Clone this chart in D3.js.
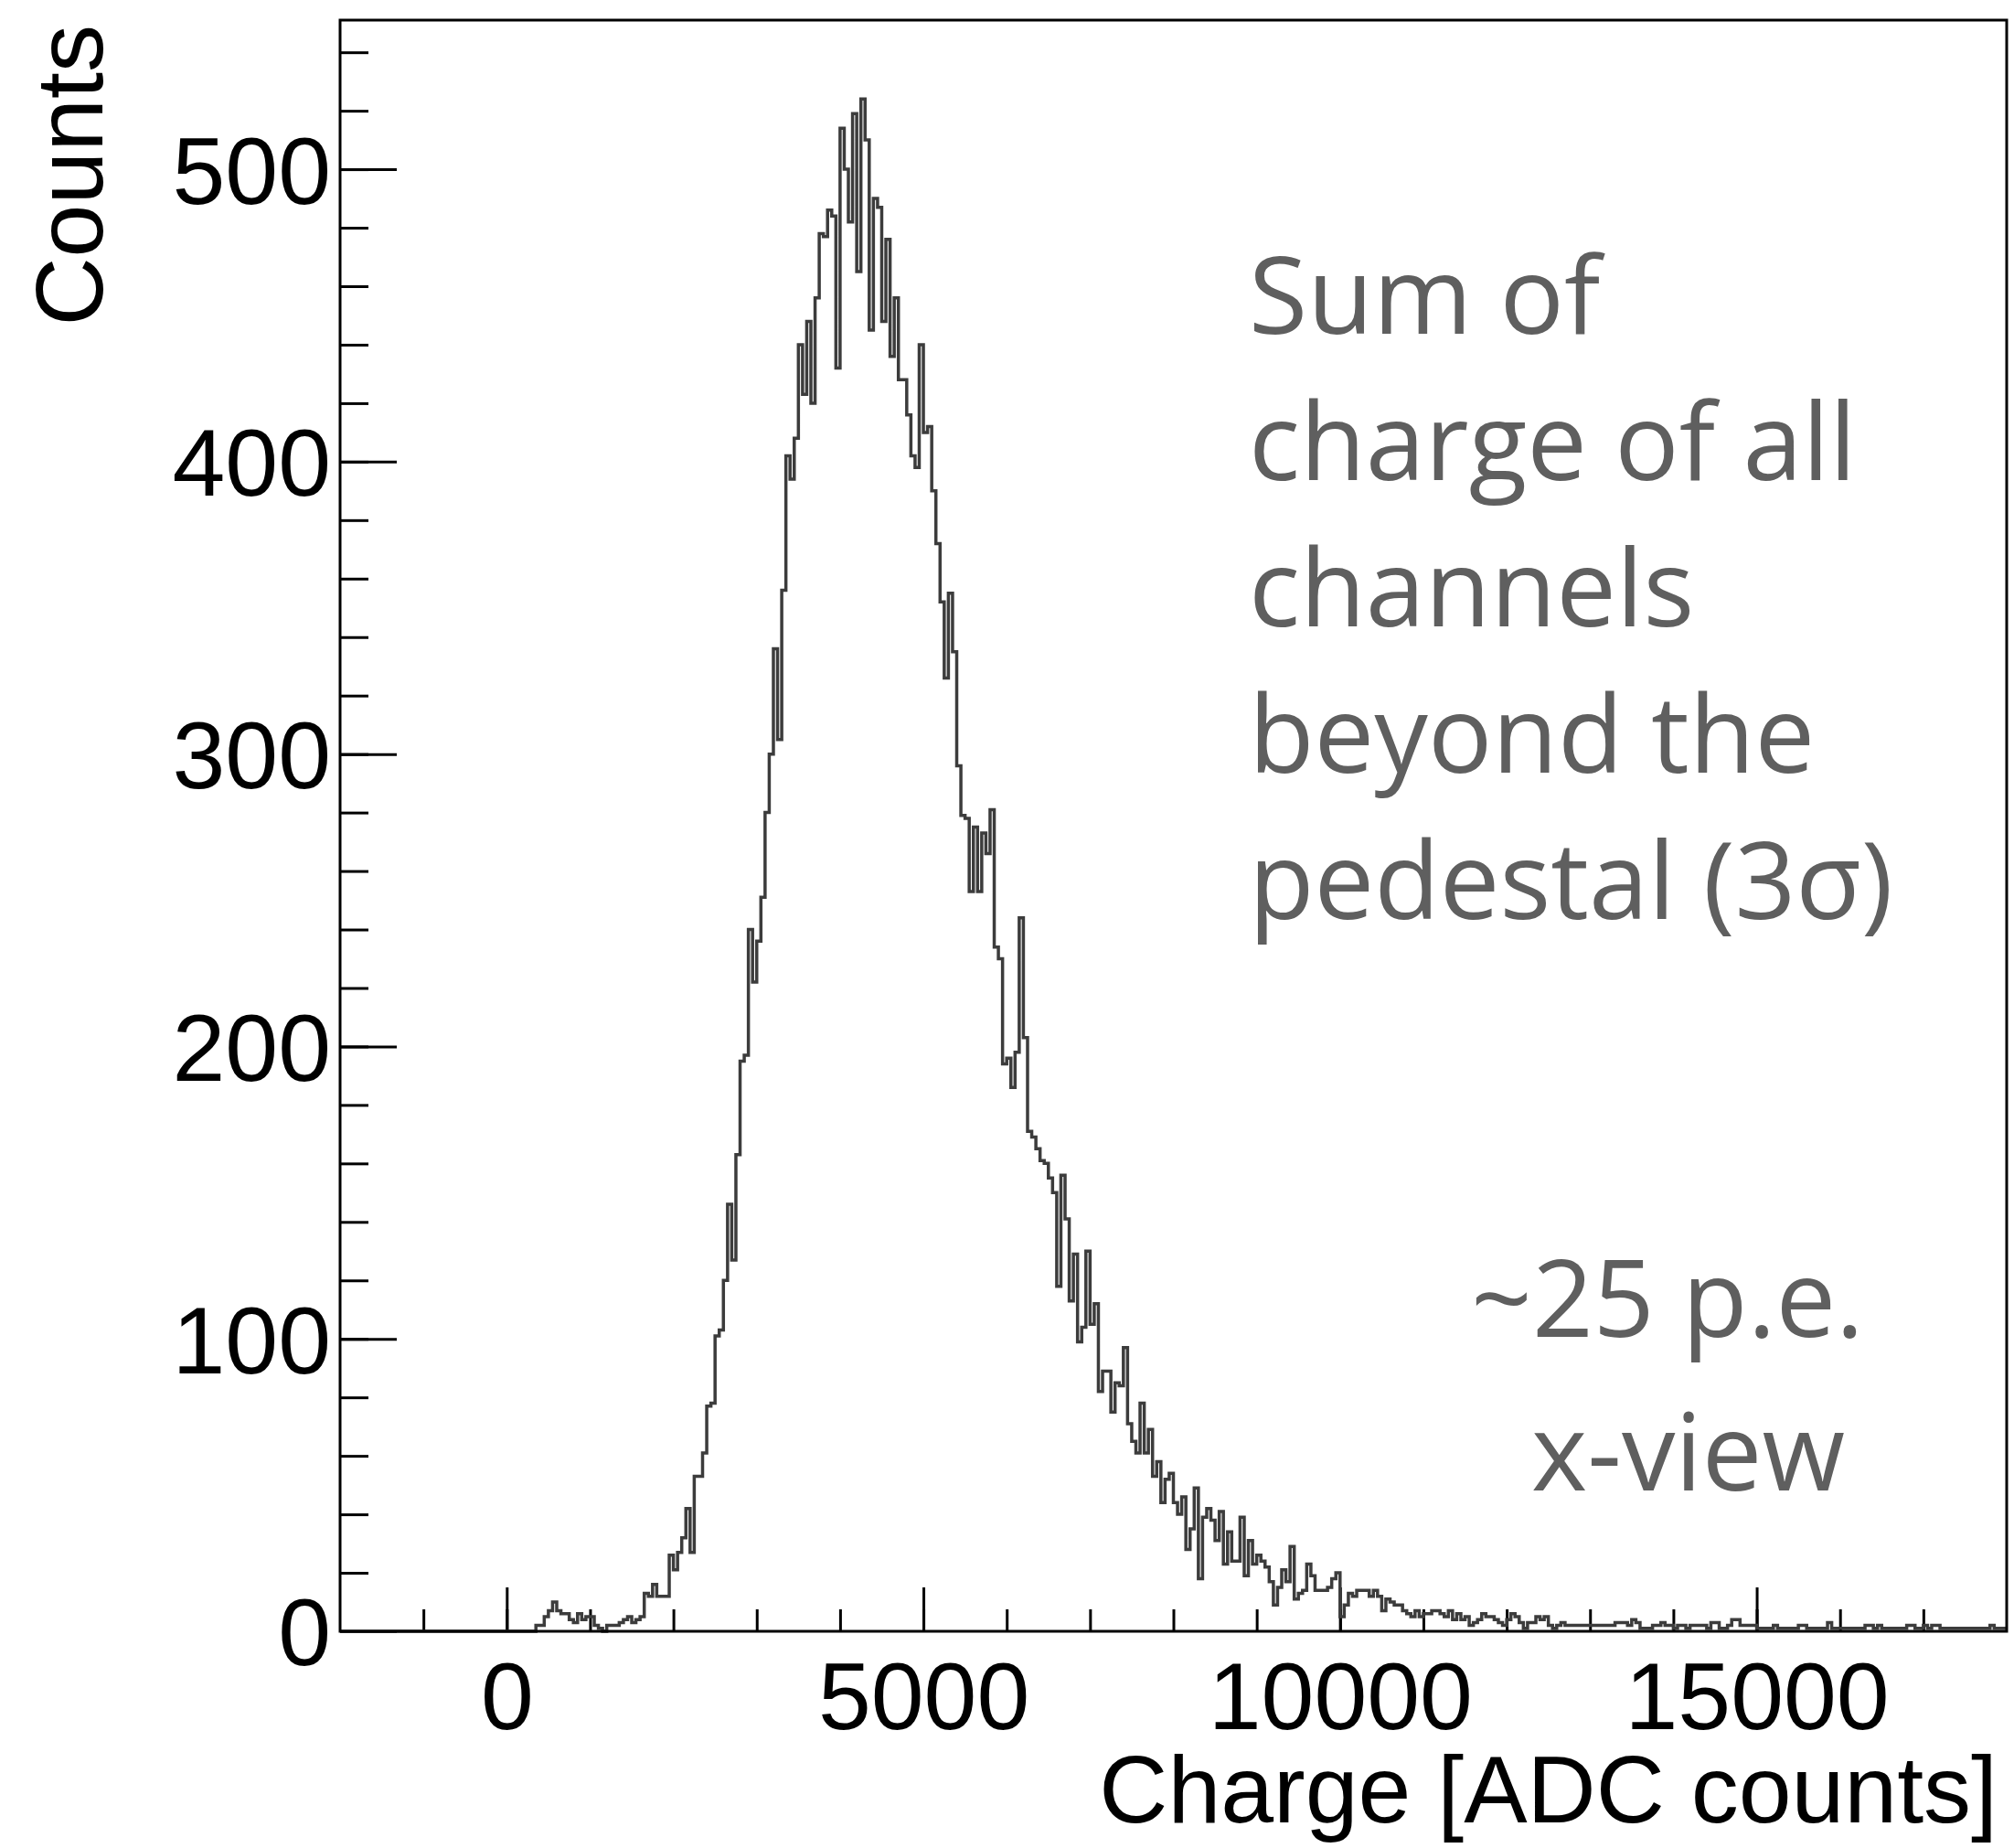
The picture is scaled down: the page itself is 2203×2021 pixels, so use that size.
<!DOCTYPE html>
<html>
<head>
<meta charset="utf-8">
<script src="https://cdn.jsdelivr.net/npm/d3@7"></script>
<style>
  body { margin: 0; background: #fff; }
</style>
</head>
<body>
<svg width="2203" height="2021"></svg>
<script>

// histogram binning: 400 bins of 50 ADC counts, from -2000 to 18000
var binLow = -2000,
    binWidth = 50;

// counts per bin
var counts = [
  0,0,0,0,0,0,0,0,0,0,            // -2000
  0,0,0,0,0,0,0,0,0,0,            // -1500
  0,0,0,0,0,0,0,0,0,0,            // -1000
  0,0,0,0,0,0,0,0,0,0,            // -500
  0,0,0,0,0,0,0,2,2,5,            // 0
  7,10,7,6,6,4,3,6,4,5,           // 500
  5,2,1,0,2,2,2,3,4,5,            // 1000
  3,4,5,13,12,16,12,12,12,26,     // 1500
  21,27,32,42,27,53,53,61,77,78,  // 2000
  101,103,120,146,127,163,195,197,240,222,   // 2500
  236,251,280,300,336,305,356,402,394,408,   // 3000
  440,423,448,420,456,478,477,486,484,432,   // 3500
  514,500,482,519,465,524,510,445,490,487,   // 4000
  448,476,436,456,428,428,416,402,398,440,   // 4500
  410,412,390,372,352,326,355,335,296,279,   // 5000
  278,253,275,253,273,266,281,234,230,194,   // 5500
  196,186,198,244,203,171,169,165,161,160,   // 6000
  155,150,118,156,141,113,129,99,104,130,    // 6500
  105,112,82,89,89,75,85,84,97,71,           // 7000
  65,61,78,61,69,53,58,44,52,54,             // 7500
  44,40,46,28,35,49,18,39,42,38,   // 8000
  31,41,23,34,24,24,39,19,31,23,   // 8500
  26,24,22,17,9,15,21,17,29,11,    // 9000
  13,14,23,19,14,14,14,15,18,20,   // 9500
  5,9,13,12,14,14,14,12,14,12,     // 10000
  7,11,10,9,9,7,6,5,7,5,           // 10500
  6,6,7,7,6,5,7,4,6,4,             // 11000
  5,2,3,4,6,5,5,4,3,2,             // 11500
  4,6,5,3,1,3,3,5,4,5,             // 12000
  2,1,2,3,2,2,2,2,2,2,             // 12500
  2,2,2,2,2,2,3,3,3,2,             // 13000
  4,3,1,1,1,2,2,3,2,2,             // 13500
  1,2,2,1,2,2,2,2,1,3,             // 14000
  3,1,1,2,4,4,2,2,2,2,             // 14500
  1,1,1,1,2,1,1,1,1,1,             // 15000
  2,2,1,1,1,1,1,3,1,1,             // 15500
  1,1,1,1,1,1,2,2,1,2,             // 16000
  1,1,1,1,1,1,2,2,1,1,             // 16500
  2,1,2,2,1,1,1,1,1,1,             // 17000
  1,1,1,1,1,1,2,1,1,1              // 17500
];

var xTicks = [0, 5000, 10000, 15000];
var yTicks = [0, 100, 200, 300, 400, 500];

var noteLines = ["Sum of", "charge of all", "channels", "beyond the", "pedestal (3\u03c3)"];
var peLines = ["~25 p.e.", "x-view"];

var svg = d3.select("svg"),
    margin = {top: 22, right: 8, bottom: 237, left: 372},
    width = +svg.attr("width") - margin.left - margin.right,
    height = +svg.attr("height") - margin.top - margin.bottom,
    g = svg.append("g").attr("transform", "translate(" + margin.left + "," + margin.top + ")");

var axisFont = "'Liberation Sans', Arial, Helvetica, sans-serif";

var x = d3.scaleLinear()
    .domain([-2000, 18000])
    .range([0, width]);

var y = d3.scaleLinear()
    .domain([0, 551])
    .range([height, 0]);

// minor ticks
g.append("g")
    .attr("transform", "translate(0," + height + ")")
    .call(d3.axisBottom(x).tickValues(d3.range(-1000, 18000, 1000)).tickSize(-24).tickFormat(""))
    .call(function(s) { s.select(".domain").remove(); })
    .selectAll("line").attr("stroke-width", 3);

g.append("g")
    .call(d3.axisLeft(y).tickValues(d3.range(20, 551, 20)).tickSize(-31).tickFormat(""))
    .call(function(s) { s.select(".domain").remove(); })
    .selectAll("line").attr("stroke-width", 3);

// major ticks + labels
var xAxis = g.append("g")
    .attr("transform", "translate(0," + height + ")")
    .call(d3.axisBottom(x).tickValues(xTicks).tickSize(-48).tickPadding(33).tickFormat(d3.format("d")))
    .attr("font-family", axisFont)
    .attr("font-size", 104);
xAxis.select(".domain").remove();
xAxis.selectAll("line").attr("stroke-width", 3);
xAxis.selectAll("text").attr("fill", "#000");

var yAxis = g.append("g")
    .call(d3.axisLeft(y).tickValues(yTicks).tickSize(-62).tickPadding(10).tickFormat(d3.format("d")))
    .attr("font-family", axisFont)
    .attr("font-size", 104);
yAxis.select(".domain").remove();
yAxis.selectAll("line").attr("stroke-width", 3);
yAxis.selectAll("text").attr("dy", "0.355em").attr("fill", "#000");

// histogram outline
var steps = counts.map(function(c, i) { return {lo: binLow + i * binWidth, c: c}; });
steps.push({lo: binLow + counts.length * binWidth, c: counts[counts.length - 1]});

var line = d3.line()
    .curve(d3.curveStepAfter)
    .x(function(d) { return x(d.lo); })
    .y(function(d) { return y(d.c); });

g.append("path")
    .attr("d", line(steps))
    .attr("fill", "none")
    .attr("stroke", "#3c3c3c")
    .attr("stroke-width", 3.5);

// frame
g.append("rect")
    .attr("width", width)
    .attr("height", height)
    .attr("fill", "none")
    .attr("stroke", "#000")
    .attr("stroke-width", 3);

// axis titles
svg.append("text")
    .attr("transform", "translate(112,27) rotate(-90)")
    .attr("text-anchor", "end")
    .attr("font-family", axisFont)
    .attr("font-size", 104)
    .text("Counts");

svg.append("text")
    .attr("x", 2185)
    .attr("y", 1993)
    .attr("text-anchor", "end")
    .attr("font-family", axisFont)
    .attr("font-size", 104)
    .text("Charge [ADC counts]");

// annotation
var noteFont = "'Open Sans', 'Noto Sans', sans-serif";

svg.append("g")
    .attr("font-family", noteFont)
    .attr("font-size", 117)
    .attr("fill", "#5f5f5f")
  .selectAll("text")
  .data(noteLines)
  .enter().append("text")
    .attr("x", 1366)
    .attr("y", function(d, i) { return 365 + i * 160; })
    .text(function(d) { return d; });

svg.append("g")
    .attr("font-family", noteFont)
    .attr("font-size", 117)
    .attr("fill", "#5f5f5f")
  .selectAll("text")
  .data(peLines)
  .enter().append("text")
    .attr("x", function(d, i) { return i ? 1675 : 1609; })
    .attr("y", function(d, i) { return i ? 1630 : 1462; })
    .text(function(d) { return d; });

</script>
</body>
</html>
